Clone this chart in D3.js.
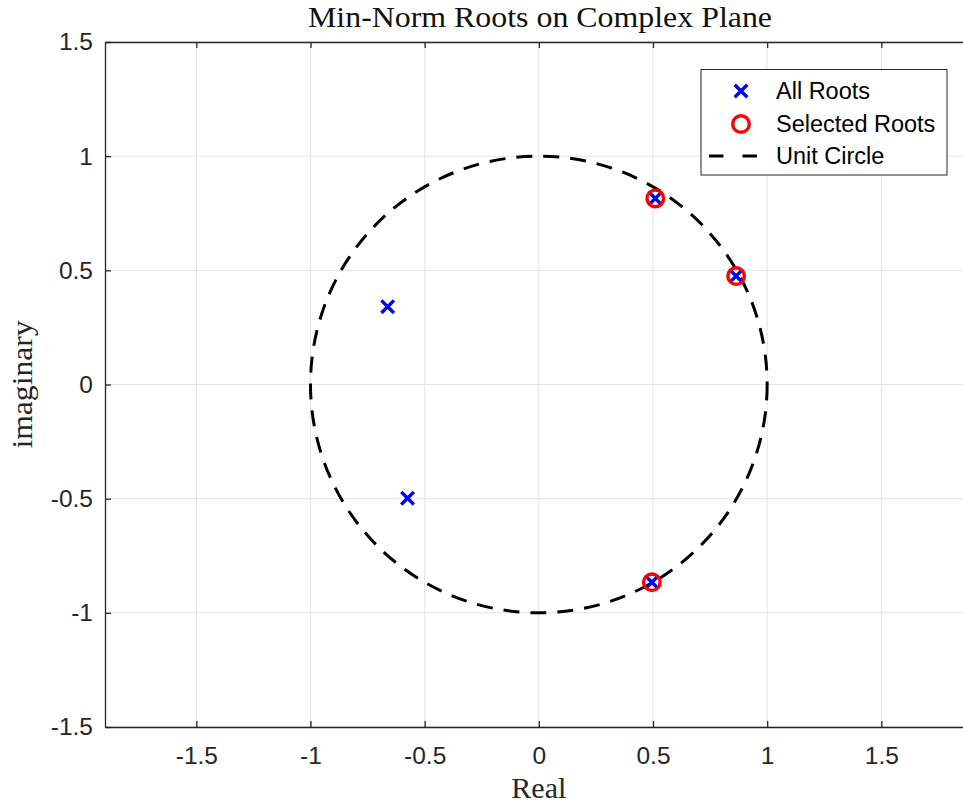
<!DOCTYPE html>
<html>
<head>
<meta charset="utf-8">
<script src="https://cdn.jsdelivr.net/npm/d3@7"></script>
<style>
  html, body { margin: 0; padding: 0; background: #fff; }
  svg { display: block; }
</style>
</head>
<body>
<svg id="chart" width="963" height="805"></svg>
<script>
// Roots of the Min-Norm polynomial (real and imaginary parts)
const rootRe = [0.510, 0.864, -0.662, -0.575, 0.495];
const rootIm = [0.815, 0.475, 0.341, -0.498, -0.866];
// Roots kept as frequency estimates (closest to the unit circle)
const selectedIdx = [0, 1, 4];

const xTicks = [-1.5, -1, -0.5, 0, 0.5, 1, 1.5];
const yTicks = [-1.5, -1, -0.5, 0, 0.5, 1, 1.5];
const xDomain = [-1.9, 1.9];
const yDomain = [-1.5, 1.5];

const legendItems = ["All Roots", "Selected Roots", "Unit Circle"];

const svg = d3.select("#chart");
const plotLeft = 105, plotTop = 42, plotBottom = 727;
const unit = (plotBottom - plotTop) / (yDomain[1] - yDomain[0]);
const plotRight = plotLeft + unit * (xDomain[1] - xDomain[0]);

const x = d3.scaleLinear().domain(xDomain).range([plotLeft, plotRight]);
const y = d3.scaleLinear().domain(yDomain).range([plotBottom, plotTop]);

const sans = "'Liberation Sans', Arial, Helvetica, sans-serif";
const serif = "'Liberation Serif', 'DejaVu Serif', serif";
// plain hyphen for negative tick labels
const tickFmt = d => String(d);

// grid
const grid = svg.append("g");
grid.selectAll("line.gx").data(xTicks).join("line").attr("class", "gx")
  .attr("x1", d => x(d)).attr("x2", d => x(d))
  .attr("y1", plotTop).attr("y2", plotBottom)
  .attr("stroke", "#e3e3e3").attr("stroke-width", 1);
grid.selectAll("line.gy").data(yTicks).join("line").attr("class", "gy")
  .attr("y1", d => y(d)).attr("y2", d => y(d))
  .attr("x1", plotLeft).attr("x2", plotRight)
  .attr("stroke", "#e3e3e3").attr("stroke-width", 1);

// axes (ticks pointing inward, box on all sides)
const axisColor = "#262626";
const xAxisB = d3.axisBottom(x).tickValues(xTicks).tickSizeInner(-6).tickSizeOuter(0)
  .tickFormat(tickFmt).tickPadding(20);
const xAxisT = d3.axisTop(x).tickValues(xTicks).tickSizeInner(-6).tickSizeOuter(0)
  .tickFormat("");
const yAxisL = d3.axisLeft(y).tickValues(yTicks).tickSizeInner(-6).tickSizeOuter(0)
  .tickFormat(tickFmt).tickPadding(12);
const yAxisR = d3.axisRight(y).tickValues(yTicks).tickSizeInner(-6).tickSizeOuter(0)
  .tickFormat("");

function styleAxis(g) {
  g.select(".domain").attr("stroke", axisColor).attr("stroke-width", 1.3);
  g.selectAll(".tick line").attr("stroke", axisColor).attr("stroke-width", 1.3);
  g.selectAll(".tick text").attr("fill", "#262626")
    .style("font-family", sans).style("font-size", "24.5px");
}

svg.append("g").attr("transform", `translate(0,${plotBottom})`).call(xAxisB).call(styleAxis);
svg.append("g").attr("transform", `translate(0,${plotTop})`).call(xAxisT).call(styleAxis);
svg.append("g").attr("transform", `translate(${plotLeft},0)`).call(yAxisL).call(styleAxis);
svg.append("g").attr("transform", `translate(${plotRight},0)`).call(yAxisR).call(styleAxis);

// unit circle
svg.append("circle")
  .attr("cx", x(0)).attr("cy", y(0))
  .attr("r", x(1) - x(0))
  .attr("fill", "none").attr("stroke", "#000")
  .attr("stroke-width", 3).attr("stroke-dasharray", "16,11");

// all roots: blue crosses
const xs = 6.3;
function cross(g, cx, cy) {
  g.append("path")
    .attr("d", `M${cx - xs},${cy - xs}L${cx + xs},${cy + xs}M${cx - xs},${cy + xs}L${cx + xs},${cy - xs}`)
    .attr("stroke", "#0000ff").attr("stroke-width", 3.4).attr("fill", "none");
}
const rootsG = svg.append("g");
rootRe.forEach((re, i) => cross(rootsG, x(re), y(rootIm[i])));

// selected roots: red circles
svg.append("g").selectAll("circle").data(selectedIdx).join("circle")
  .attr("cx", i => x(rootRe[i])).attr("cy", i => y(rootIm[i]))
  .attr("r", 8.3).attr("fill", "none")
  .attr("stroke", "#ff0000").attr("stroke-width", 3.4);

// title and axis labels
svg.append("text").attr("x", 540).attr("y", 27).attr("text-anchor", "middle")
  .attr("textLength", 464).attr("lengthAdjust", "spacingAndGlyphs")
  .style("font-family", serif).style("font-size", "29px").attr("fill", "#111")
  .text("Min-Norm Roots on Complex Plane");
svg.append("text").attr("x", x(0)).attr("y", 798).attr("text-anchor", "middle")
  .attr("textLength", 55).attr("lengthAdjust", "spacingAndGlyphs")
  .style("font-family", serif).style("font-size", "29px").attr("fill", "#262626")
  .text("Real");
svg.append("text").attr("transform", `translate(32,${y(0)}) rotate(-90)`)
  .attr("text-anchor", "middle")
  .attr("textLength", 128).attr("lengthAdjust", "spacingAndGlyphs")
  .style("font-family", serif).style("font-size", "29px").attr("fill", "#262626")
  .text("imaginary");

// legend
const lg = svg.append("g");
lg.append("rect").attr("x", 701).attr("y", 69.5).attr("width", 246).attr("height", 105.5)
  .attr("fill", "#fff").attr("stroke", "#262626").attr("stroke-width", 1);
const rowY = [91, 124, 156];
const mx = 741;
cross(lg, mx, rowY[0]);
lg.append("circle").attr("cx", mx).attr("cy", rowY[1]).attr("r", 8.3)
  .attr("fill", "none").attr("stroke", "#ff0000").attr("stroke-width", 3.4);
lg.append("line").attr("x1", 709).attr("x2", 757).attr("y1", rowY[2]).attr("y2", rowY[2])
  .attr("stroke", "#000").attr("stroke-width", 3).attr("stroke-dasharray", "14.5,19");
lg.selectAll("text").data(legendItems).join("text")
  .attr("x", 776).attr("y", (d, i) => rowY[i]).attr("dy", "0.35em")
  .style("font-family", sans).style("font-size", "23.5px").attr("fill", "#000")
  .text(d => d);
</script>
</body>
</html>
